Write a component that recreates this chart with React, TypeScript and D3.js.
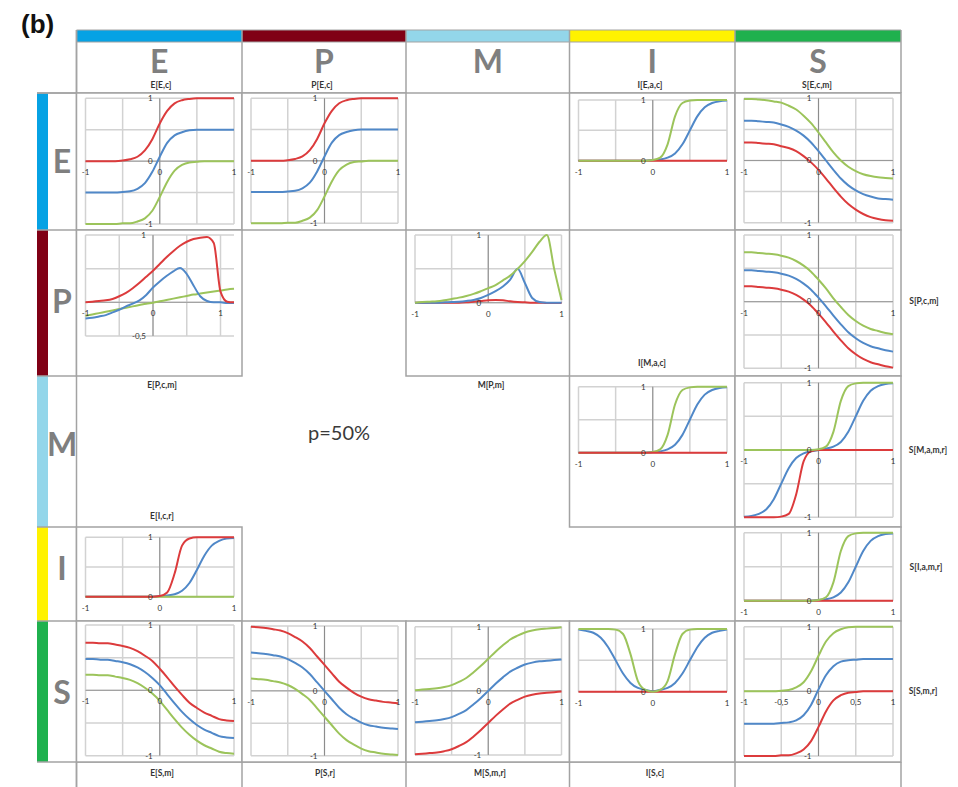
import React from 'react';
import * as d3 from 'd3';

// shared x samples
const XS = [-1, -0.9, -0.8, -0.7, -0.6, -0.5, -0.4, -0.3, -0.2, -0.1, 0, 0.1, 0.2, 0.3, 0.4, 0.5, 0.6, 0.7, 0.8, 0.9, 1];
const XS_WIDE = [-1, -0.9, -0.8, -0.7, -0.6, -0.5, -0.4, -0.3, -0.2, -0.1, 0, 0.1, 0.2, 0.3, 0.4, 0.5, 0.6, 0.7, 0.8, 0.9, 1, 1.1, 1.2];

// E[E,c] and P[E,c]
const eEcRed = [0, 0, 0, 0, 0, 0.01, 0.03, 0.07, 0.17, 0.35, 0.6, 0.8, 0.92, 0.97, 0.99, 1, 1, 1, 1, 1, 1];
const eEcBlue = [-0.5, -0.5, -0.5, -0.5, -0.5, -0.49, -0.48, -0.44, -0.35, -0.17, 0.07, 0.29, 0.41, 0.46, 0.49, 0.5, 0.5, 0.5, 0.5, 0.5, 0.5];
const eEcGreen = [-1, -1, -1, -1, -1, -0.99, -0.99, -0.96, -0.91, -0.79, -0.57, -0.33, -0.15, -0.06, -0.02, -0.01, 0, 0, 0, 0, 0];

// I[E,a,c], I[M,a,c], S[I,a,m,r]
const iEacRed = [0, 0, 0, 0, 0, 0, 0, 0, 0, 0, 0, 0, 0, 0, 0, 0, 0, 0, 0, 0, 0];
const iEacBlue = [0, 0, 0, 0, 0, 0, 0, 0, 0, 0, 0.01, 0.02, 0.05, 0.12, 0.27, 0.5, 0.73, 0.88, 0.95, 0.98, 0.99];
const iEacGreen = [0, 0, 0, 0, 0, 0, 0, 0, 0, 0, 0.01, 0.05, 0.27, 0.73, 0.95, 0.99, 1, 1, 1, 1, 1];

// S[E,c,m]
const sEcmGreen = [0.99, 0.99, 0.98, 0.97, 0.95, 0.93, 0.88, 0.82, 0.72, 0.6, 0.45, 0.29, 0.13, 0, -0.1, -0.17, -0.22, -0.25, -0.27, -0.28, -0.29];
const sEcmBlue = [0.64, 0.64, 0.63, 0.62, 0.61, 0.58, 0.54, 0.48, 0.4, 0.29, 0.15, 0, -0.15, -0.29, -0.4, -0.48, -0.54, -0.58, -0.61, -0.62, -0.63];
const sEcmRed = [0.29, 0.29, 0.28, 0.27, 0.26, 0.23, 0.2, 0.15, 0.07, -0.03, -0.15, -0.29, -0.44, -0.58, -0.7, -0.79, -0.86, -0.91, -0.94, -0.96, -0.97];

// E[P,c,m]
const ePcmRed = [0, 0.01, 0.02, 0.03, 0.05, 0.09, 0.14, 0.21, 0.29, 0.38, 0.47, 0.57, 0.67, 0.76, 0.84, 0.9, 0.94, 0.96, 0.97, 0.88, 0.16, 0.01, 0];
const ePcmBlue = [-0.24, -0.23, -0.21, -0.19, -0.15, -0.11, -0.06, -0.02, 0.03, 0.11, 0.22, 0.31, 0.39, 0.46, 0.51, 0.42, 0.25, 0.09, 0.02, 0, 0, -0.01, -0.01];
const ePcmGreen = [-0.2, -0.18, -0.16, -0.14, -0.12, -0.1, -0.08, -0.06, -0.04, -0.02, -0.005, 0.015, 0.035, 0.055, 0.075, 0.095, 0.115, 0.13, 0.145, 0.16, 0.175, 0.19, 0.2];

// M[P,m]
const mPmRed = [0, 0, 0, 0, 0, 0, 0, 0.005, 0.015, 0.025, 0.035, 0.04, 0.035, 0.02, 0.01, 0.005, 0, 0, -0.005, -0.005, -0.005];
const mPmBlue = [0, 0, 0, 0, 0.005, 0.01, 0.015, 0.025, 0.04, 0.07, 0.115, 0.17, 0.24, 0.34, 0.5, 0.29, 0.07, 0.01, 0, 0, 0];
const mPmGreen = [0, 0.01, 0.015, 0.02, 0.035, 0.055, 0.075, 0.1, 0.13, 0.17, 0.215, 0.26, 0.33, 0.4, 0.5, 0.615, 0.75, 0.9, 1, 0.5, 0.04];

// S[P,c,m]
const sPcmGreen = [0.74, 0.74, 0.73, 0.72, 0.71, 0.69, 0.66, 0.61, 0.54, 0.45, 0.33, 0.2, 0.05, -0.08, -0.2, -0.29, -0.36, -0.41, -0.44, -0.47, -0.49];
const sPcmBlue = [0.47, 0.47, 0.46, 0.45, 0.44, 0.42, 0.39, 0.34, 0.27, 0.18, 0.06, -0.07, -0.21, -0.34, -0.46, -0.55, -0.62, -0.67, -0.7, -0.73, -0.75];
const sPcmRed = [0.23, 0.23, 0.22, 0.21, 0.2, 0.18, 0.15, 0.1, 0.03, -0.06, -0.18, -0.31, -0.45, -0.58, -0.7, -0.79, -0.86, -0.91, -0.94, -0.97, -0.99];

// S[M,a,m,r]
const sMamrRed = [-1, -1, -1, -1, -1, -0.99, -0.95, -0.66, -0.17, -0.02, 0, 0, 0, 0, 0, 0, 0, 0, 0, 0, 0];
const sMamrBlue = [-0.99, -0.98, -0.95, -0.88, -0.73, -0.5, -0.27, -0.12, -0.05, -0.02, 0, 0.02, 0.05, 0.12, 0.27, 0.5, 0.73, 0.88, 0.95, 0.98, 0.99];

// E[I,c,r]
const eIcrRed = [0, 0, 0, 0, 0, 0, 0, 0, 0, 0, 0.01, 0.07, 0.39, 0.86, 0.98, 1, 1, 1, 1, 1, 1];
const eIcrBlue = [0, 0, 0, 0, 0, 0, 0, 0, 0, 0, 0.01, 0.02, 0.04, 0.1, 0.23, 0.45, 0.69, 0.86, 0.94, 0.98, 0.99];
const eIcrGreen = [0, 0, 0, 0, 0, 0, 0, 0, 0, 0, 0, 0, 0, 0, 0, 0, 0, 0, 0, 0, 0];

// E[S,m]
const eSmRed = [0.73, 0.73, 0.72, 0.72, 0.7, 0.68, 0.65, 0.6, 0.53, 0.45, 0.33, 0.2, 0.06, -0.07, -0.19, -0.27, -0.34, -0.39, -0.44, -0.46, -0.47];
const eSmBlue = [0.48, 0.48, 0.47, 0.47, 0.45, 0.43, 0.4, 0.35, 0.28, 0.19, 0.08, -0.06, -0.2, -0.33, -0.44, -0.53, -0.6, -0.65, -0.7, -0.72, -0.73];
const eSmGreen = [0.24, 0.24, 0.23, 0.23, 0.21, 0.19, 0.16, 0.11, 0.04, -0.05, -0.16, -0.3, -0.44, -0.57, -0.68, -0.77, -0.84, -0.89, -0.94, -0.96, -0.97];

// P[S,r]
const pSrRed = [0.99, 0.98, 0.97, 0.95, 0.93, 0.89, 0.83, 0.76, 0.66, 0.53, 0.4, 0.27, 0.14, 0.05, -0.03, -0.09, -0.13, -0.15, -0.17, -0.18, -0.19];
const pSrBlue = [0.59, 0.58, 0.57, 0.55, 0.53, 0.49, 0.43, 0.36, 0.26, 0.13, 0, -0.13, -0.26, -0.36, -0.43, -0.49, -0.53, -0.55, -0.57, -0.58, -0.59];
const pSrGreen = [0.19, 0.18, 0.17, 0.15, 0.13, 0.09, 0.03, -0.05, -0.14, -0.27, -0.4, -0.53, -0.66, -0.76, -0.83, -0.89, -0.93, -0.95, -0.97, -0.98, -0.99];

// M[S,m,r]
const mSmrGreen = [0.01, 0.02, 0.03, 0.04, 0.06, 0.09, 0.14, 0.2, 0.29, 0.39, 0.5, 0.61, 0.71, 0.8, 0.86, 0.91, 0.94, 0.96, 0.97, 0.98, 0.99];
const mSmrBlue = [-0.49, -0.48, -0.47, -0.46, -0.44, -0.41, -0.36, -0.3, -0.21, -0.11, 0, 0.11, 0.21, 0.3, 0.36, 0.41, 0.44, 0.46, 0.47, 0.48, 0.49];
const mSmrRed = [-0.99, -0.98, -0.97, -0.96, -0.94, -0.91, -0.86, -0.8, -0.71, -0.61, -0.5, -0.39, -0.29, -0.2, -0.14, -0.09, -0.06, -0.04, -0.03, -0.02, -0.01];

// I[S,c]
const iScRed = [0, 0, 0, 0, 0, 0, 0, 0, 0, 0, 0, 0, 0, 0, 0, 0, 0, 0, 0, 0, 0];
const iScBlue = [0.99, 0.97, 0.94, 0.86, 0.71, 0.5, 0.29, 0.14, 0.06, 0.03, 0.01, 0.03, 0.06, 0.14, 0.29, 0.5, 0.71, 0.86, 0.94, 0.97, 0.99];
const iScGreen = [1, 1, 1, 1, 1, 0.99, 0.92, 0.6, 0.17, 0.03, 0, 0.03, 0.17, 0.6, 0.92, 0.99, 1, 1, 1, 1, 1];

// S[S,m,r]
const sSmrGreen = [0, 0, 0, 0, 0, 0.01, 0.02, 0.06, 0.14, 0.31, 0.55, 0.77, 0.9, 0.96, 0.99, 1, 1, 1, 1, 1, 1];
const sSmrBlue = [-0.5, -0.5, -0.5, -0.5, -0.5, -0.49, -0.48, -0.45, -0.37, -0.21, 0.03, 0.25, 0.39, 0.46, 0.48, 0.49, 0.5, 0.5, 0.5, 0.5, 0.5];
const sSmrRed = [-1, -1, -1, -1, -1, -0.99, -0.99, -0.96, -0.9, -0.77, -0.55, -0.31, -0.14, -0.06, -0.02, -0.01, 0, 0, 0, 0, 0];

const VARS = ['E', 'P', 'M', 'I', 'S'];
const VAR_COLORS = ['#06a2e4', '#800015', '#93d6ea', '#fff200', '#1fb14e'];

const RED = '#dc3b3c';
const BLUE = '#5088c8';
const GREEN = '#9cc45b';

// table layout
const COL_X = [76.5, 242, 406, 569.5, 735, 901];
const ROW_Y = [93, 230, 376, 527, 621, 762];
const FONT = 'Lato, "Open Sans", sans-serif';

type Series = { color: string; values: number[] };
type Panel = {
  col: number;
  row: number;
  xs: number[];
  xDomain: [number, number];
  yDomain: [number, number];
  top: number;
  bottom: number;
  xLabels: number[];
  yLabels: number[];
  series: Series[];
};

const s = (color: string, values: number[]): Series => ({ color, values });
const FULL: [number, number] = [-1, 1];
const HALF: [number, number] = [0, 1];

const panels: Panel[] = [
  { col: 0, row: 0, xs: XS, xDomain: FULL, yDomain: FULL, top: 98.3, bottom: 224, xLabels: [-1, 0, 1], yLabels: [1, 0, -1],
    series: [s(RED, eEcRed), s(BLUE, eEcBlue), s(GREEN, eEcGreen)] },
  { col: 1, row: 0, xs: XS, xDomain: FULL, yDomain: FULL, top: 98.3, bottom: 223.3, xLabels: [-1, 0, 1], yLabels: [1, 0, -1],
    series: [s(RED, eEcRed), s(BLUE, eEcBlue), s(GREEN, eEcGreen)] },
  { col: 3, row: 0, xs: XS, xDomain: FULL, yDomain: HALF, top: 100, bottom: 160.7, xLabels: [-1, 0, 1], yLabels: [1, 0],
    series: [s(BLUE, iEacBlue), s(RED, iEacRed), s(GREEN, iEacGreen)] },
  { col: 4, row: 0, xs: XS, xDomain: FULL, yDomain: FULL, top: 98.3, bottom: 222.7, xLabels: [-1, 0, 1], yLabels: [1, 0, -1],
    series: [s(RED, sEcmRed), s(BLUE, sEcmBlue), s(GREEN, sEcmGreen)] },
  { col: 0, row: 1, xs: XS_WIDE, xDomain: [-1, 1.2], yDomain: [-0.5, 1], top: 235, bottom: 336, xLabels: [-1, 0, 1], yLabels: [1, -0.5],
    series: [s(GREEN, ePcmGreen), s(BLUE, ePcmBlue), s(RED, ePcmRed)] },
  { col: 2, row: 1, xs: XS, xDomain: FULL, yDomain: HALF, top: 235, bottom: 302.7, xLabels: [-1, 0, 1], yLabels: [1, 0],
    series: [s(RED, mPmRed), s(BLUE, mPmBlue), s(GREEN, mPmGreen)] },
  { col: 4, row: 1, xs: XS, xDomain: FULL, yDomain: FULL, top: 235, bottom: 368.3, xLabels: [-1, 0, 1], yLabels: [1, 0, -1],
    series: [s(RED, sPcmRed), s(BLUE, sPcmBlue), s(GREEN, sPcmGreen)] },
  { col: 3, row: 2, xs: XS, xDomain: FULL, yDomain: HALF, top: 386.7, bottom: 452.7, xLabels: [-1, 0, 1], yLabels: [1, 0],
    series: [s(BLUE, iEacBlue), s(GREEN, iEacGreen), s(RED, iEacRed)] },
  { col: 4, row: 2, xs: XS, xDomain: FULL, yDomain: FULL, top: 382.7, bottom: 517.3, xLabels: [-1, 0, 1], yLabels: [1, 0, -1],
    series: [s(BLUE, sMamrBlue), s(RED, sMamrRed), s(GREEN, iEacGreen)] },
  { col: 0, row: 3, xs: XS, xDomain: FULL, yDomain: HALF, top: 537.3, bottom: 596.7, xLabels: [-1, 0, 1], yLabels: [1, 0],
    series: [s(BLUE, eIcrBlue), s(GREEN, eIcrGreen), s(RED, eIcrRed)] },
  { col: 4, row: 3, xs: XS, xDomain: FULL, yDomain: HALF, top: 532.7, bottom: 600.7, xLabels: [-1, 0, 1], yLabels: [1, 0],
    series: [s(BLUE, iEacBlue), s(RED, iEacRed), s(GREEN, iEacGreen)] },
  { col: 0, row: 4, xs: XS, xDomain: FULL, yDomain: FULL, top: 625, bottom: 755.7, xLabels: [-1, 0, 1], yLabels: [1, 0, -1],
    series: [s(RED, eSmRed), s(BLUE, eSmBlue), s(GREEN, eSmGreen)] },
  { col: 1, row: 4, xs: XS, xDomain: FULL, yDomain: FULL, top: 626, bottom: 755.7, xLabels: [-1, 0, 1], yLabels: [1, 0, -1],
    series: [s(RED, pSrRed), s(BLUE, pSrBlue), s(GREEN, pSrGreen)] },
  { col: 2, row: 4, xs: XS, xDomain: FULL, yDomain: FULL, top: 626.7, bottom: 755, xLabels: [-1, 0, 1], yLabels: [1, 0, -1],
    series: [s(RED, mSmrRed), s(BLUE, mSmrBlue), s(GREEN, mSmrGreen)] },
  { col: 3, row: 4, xs: XS, xDomain: FULL, yDomain: HALF, top: 629, bottom: 691.7, xLabels: [-1, 0, 1], yLabels: [1, 0],
    series: [s(BLUE, iScBlue), s(RED, iScRed), s(GREEN, iScGreen)] },
  { col: 4, row: 4, xs: XS, xDomain: FULL, yDomain: FULL, top: 626.7, bottom: 756, xLabels: [-1, -0.5, 0, 0.5, 1], yLabels: [1, 0, -1],
    series: [s(RED, sSmrRed), s(BLUE, sSmrBlue), s(GREEN, sSmrGreen)] },
];

// panel captions as they sit in the table
const captions = [
  { text: 'E[E,c]', x: 161, y: 88 },
  { text: 'P[E,c]', x: 322, y: 88 },
  { text: 'I[E,a,c]', x: 650, y: 88 },
  { text: 'S[E,c,m]', x: 817, y: 88 },
  { text: 'E[P,c,m]', x: 162, y: 388 },
  { text: 'M[P,m]', x: 491, y: 388 },
  { text: 'I[M,a,c]', x: 652, y: 366 },
  { text: 'E[I,c,r]', x: 162, y: 519 },
  { text: 'S[P,c,m]', x: 924, y: 304 },
  { text: 'S[M,a,m,r]', x: 928, y: 453 },
  { text: 'S[I,a,m,r]', x: 926, y: 570 },
  { text: 'S[S,m,r]', x: 923, y: 694 },
  { text: 'E[S,m]', x: 162, y: 776 },
  { text: 'P[S,r]', x: 325, y: 776 },
  { text: 'M[S,m,r]', x: 490, y: 776 },
  { text: 'I[S,c]', x: 655, y: 776 },
];

const ROW_LETTER_Y = [173, 313, 456, 580, 704];
const BORDER = '#a3a3a3';

const fmt = (v: number) => (v === -0.5 ? '-0,5' : v === 0.5 ? '0,5' : String(v));

function PanelView({ p }: { p: Panel }) {
  const bx0 = COL_X[p.col];
  const bx1 = COL_X[p.col + 1];
  const x = d3.scaleLinear().domain(p.xDomain).range([bx0 + 9, bx1 - 8]);
  const y = d3.scaleLinear().domain(p.yDomain).range([p.bottom, p.top]);
  const xGrid = d3.range(p.xDomain[0], Math.min(p.xDomain[1], 1) + 1e-9, 0.5);
  const yGrid = d3.range(p.yDomain[0], p.yDomain[1] + 1e-9, 0.5);
  const line = d3
    .line<number>()
    .x((_, i) => x(p.xs[i]))
    .y((d) => y(d))
    .curve(d3.curveMonotoneX);
  const [xl, xr] = x.range();
  return (
    <g>
      <rect x={bx0} y={ROW_Y[p.row]} width={bx1 - bx0} height={ROW_Y[p.row + 1] - ROW_Y[p.row]} fill="#fff" stroke={BORDER} strokeWidth={1.5} />
      {yGrid.map((v) => (
        <line key={'h' + v} x1={xl} x2={xr} y1={y(v)} y2={y(v)} stroke="#d2d2d2" strokeWidth={1.5} />
      ))}
      {xGrid.map((v) => (
        <line key={'v' + v} x1={x(v)} x2={x(v)} y1={p.top} y2={p.bottom} stroke="#d2d2d2" strokeWidth={1.5} />
      ))}
      <line x1={xl} x2={xr} y1={y(0)} y2={y(0)} stroke="#9a9a9a" strokeWidth={1} />
      <line x1={x(0)} x2={x(0)} y1={p.top} y2={p.bottom} stroke="#8c8c8c" strokeWidth={1} />
      {p.series.map((sr, i) => (
        <path key={i} d={line(sr.values) || ''} fill="none" stroke={sr.color} strokeWidth={2} />
      ))}
      {p.xLabels.map((v) => (
        <text key={'xl' + v} x={x(v)} y={y(0) + 14} textAnchor="middle" fontSize={8} fill="#333" fontFamily={FONT}>
          {fmt(v)}
        </text>
      ))}
      {p.yLabels.map((v) => (
        <text key={'yl' + v} x={x(0) - 7} y={y(v)} dy="0.35em" textAnchor="end" fontSize={8} fill="#333" fontFamily={FONT}>
          {fmt(v)}
        </text>
      ))}
    </g>
  );
}

export default function App() {
  return (
    <svg width={958} height={787} style={{ position: 'fixed', left: 0, top: 0, background: '#fff' }}>
      <rect width={958} height={787} fill="#fff" />
      <text x={21} y={33} fontSize={26} fontWeight="bold" fontFamily='"Liberation Sans", Arial, sans-serif' fill="#111">
        (b)
      </text>

      {/* column colour bars and header */}
      {VARS.map((v, i) => (
        <g key={'c' + v}>
          <rect x={COL_X[i]} y={30} width={COL_X[i + 1] - COL_X[i]} height={12} fill={VAR_COLORS[i]} />
          <line x1={COL_X[i]} x2={COL_X[i]} y1={30} y2={93} stroke={BORDER} strokeWidth={1.5} />
          <text x={(COL_X[i] + COL_X[i + 1]) / 2} y={73} textAnchor="middle" fontSize={32} fontWeight="bold" fill="#7f7f7f" fontFamily={FONT}>
            {v}
          </text>
          <line x1={COL_X[i]} x2={COL_X[i]} y1={762} y2={787} stroke={BORDER} strokeWidth={1.5} />
        </g>
      ))}
      <line x1={COL_X[5]} x2={COL_X[5]} y1={30} y2={93} stroke={BORDER} strokeWidth={1.5} />
      <line x1={COL_X[5]} x2={COL_X[5]} y1={762} y2={787} stroke={BORDER} strokeWidth={1.5} />
      <line x1={COL_X[0]} x2={COL_X[5]} y1={30} y2={30} stroke={BORDER} strokeWidth={1} />
      <line x1={COL_X[0]} x2={COL_X[5]} y1={42} y2={42} stroke={BORDER} strokeWidth={1} />

      {/* row colour bars and labels */}
      {VARS.map((v, i) => (
        <g key={'r' + v}>
          <rect x={37} y={ROW_Y[i]} width={11} height={ROW_Y[i + 1] - ROW_Y[i]} fill={VAR_COLORS[i]} />
          <line x1={37} x2={COL_X[0]} y1={ROW_Y[i]} y2={ROW_Y[i]} stroke={BORDER} strokeWidth={1.5} />
          <text x={62} y={ROW_LETTER_Y[i]} textAnchor="middle" fontSize={32} fontWeight="bold" fill="#7f7f7f" fontFamily={FONT}>
            {v}
          </text>
        </g>
      ))}
      <line x1={37} x2={COL_X[5]} y1={93} y2={93} stroke={BORDER} strokeWidth={1.5} />
      <line x1={37} x2={COL_X[5]} y1={762} y2={762} stroke={BORDER} strokeWidth={1.5} />
      <line x1={COL_X[0]} x2={COL_X[0]} y1={30} y2={787} stroke={BORDER} strokeWidth={1.5} />

      {panels.map((p, i) => (
        <PanelView key={i} p={p} />
      ))}

      {captions.map((c) => (
        <text key={c.text} x={c.x} y={c.y} textAnchor="middle" fontSize={8.5} fontWeight="bold" fill="#333" fontFamily={FONT}>
          {c.text}
        </text>
      ))}

      <text x={339} y={440} textAnchor="middle" fontSize={20} fill="#3a3a3a" fontFamily={FONT}>
        p=50%
      </text>
    </svg>
  );
}
